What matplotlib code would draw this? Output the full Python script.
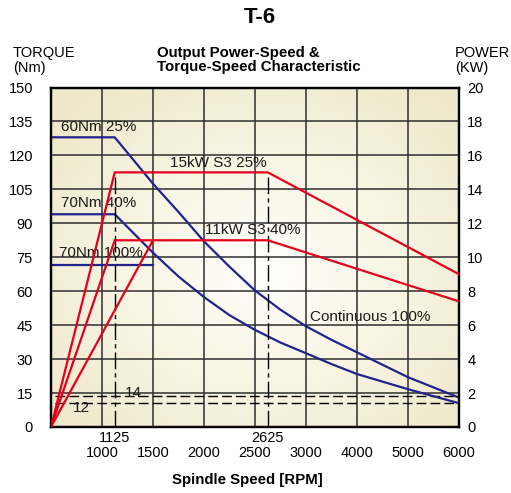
import numpy as np
import matplotlib
matplotlib.use("Agg")
import matplotlib.pyplot as plt
from matplotlib.colors import LinearSegmentedColormap

plt.rcParams['font.family'] = ['Liberation Sans', 'DejaVu Sans']

# x axis is piecewise: 0-1000 one column, then 500/column to 3000, then 1000/column
speed_knots = [0, 1000, 1500, 2000, 2500, 3000, 4000, 5000, 6000]
speed_ticks = [1000, 1500, 2000, 2500, 3000, 4000, 5000, 6000]
corner_speeds = [1125, 2625]

torque_ticks = list(range(0, 151, 15))
power_ticks = list(range(0, 21, 2))

# torque curves (Nm, left axis)
t25_speed = [0, 1125, 1500, 1750, 2000, 2250, 2500, 2750, 3000, 3500, 4000, 5000, 6000]
t25_torque = [128, 128, 107.5, 95, 82, 70.8, 60.3, 51.8, 44.5, 38.5, 33, 22, 13]
t40_speed = [0, 1125, 1500, 1750, 2000, 2250, 2500, 2750, 3000, 3500, 4000, 5000, 6000]
t40_torque = [94, 94, 77, 66.5, 57.4, 49.4, 42.9, 37.3, 32.6, 27.8, 23.4, 16.7, 10.5]
t100_speed = [0, 1500]
t100_torque = [71.6, 71.6]

# power curves (kW, right axis)
p25_speed = [0, 1125, 2625, 6000]
p25_power = [0, 15, 15, 9.0]
p40_speed = [0, 1125, 2625, 6000]
p40_power = [0, 11, 11, 7.4]
p100_speed = [0, 1500]
p100_power = [0, 11]

ref_levels = [13.5, 10.5]

blue = '#22228c'
red = '#e4001c'
pos = np.arange(len(speed_knots))


def fwd(s):
    return np.interp(s, speed_knots, pos)


def inv(p):
    return np.interp(p, pos, speed_knots)


fig = plt.figure(figsize=(5.11, 4.93), dpi=100)
ax = fig.add_axes([0.0998, 0.1339, 0.7984, 0.6886])
ax.set_xscale('function', functions=(fwd, inv))
ax.set_xlim(0, 6000)
ax.set_ylim(0, 150)

# radial gradient background
gx, gy = np.meshgrid(np.linspace(0, 1, 300), np.linspace(0, 1, 300))
r = np.sqrt(((gx - 0.52) / 0.66) ** 2 + ((gy - 0.46) / 0.66) ** 2)
cmap = LinearSegmentedColormap.from_list('bg', ['#fffffb', '#f8f5e4', '#efe8cb'])
ax.imshow(np.clip(r, 0, 1), cmap=cmap, vmin=0, vmax=1, extent=(0, 1, 0, 1),
          transform=ax.transAxes, aspect='auto', origin='lower', zorder=0)

ax.set_xticks(speed_ticks)
ax.set_xticklabels([str(s) for s in speed_ticks])
ax.set_xticks(corner_speeds, minor=True)
ax.set_xticklabels([str(s) for s in corner_speeds], minor=True)
ax.set_yticks(torque_ticks)
ax.grid(which='major', color='#2e2e2e', linewidth=1.1)
ax.tick_params(axis='x', which='major', length=0, pad=14, labelsize=10.5)
ax.tick_params(axis='x', which='minor', length=0, pad=3, labelsize=10.5)
ax.tick_params(axis='y', length=0, pad=13, labelsize=10.5)

ax.plot(t25_speed, t25_torque, color=blue, lw=1.6, zorder=3)
ax.plot(t40_speed, t40_torque, color=blue, lw=1.6, zorder=3)
ax.plot(t100_speed, t100_torque, color=blue, lw=1.6, zorder=3)

for lv in ref_levels:
    ax.axhline(lv, xmin=0.01, color='black', lw=1.0, linestyle=(0, (7, 3)), zorder=2.5)

ax2 = ax.twinx()
ax2.set_ylim(0, 20)
ax2.set_yticks(power_ticks)
ax2.tick_params(axis='y', length=0, pad=6, labelsize=10.5)
ax2.vlines(corner_speeds, 0, p25_power[1], color='black', lw=1.0,
           linestyle=(0, (12, 3, 3, 3)), zorder=2)
ax2.plot(p25_speed, p25_power, color=red, lw=1.6, zorder=3)
ax2.plot(p40_speed, p40_power, color=red, lw=1.6, zorder=3)
ax2.plot(p100_speed, p100_power, color=red, lw=1.6, zorder=3)

for a in (ax, ax2):
    for sp in a.spines.values():
        sp.set_linewidth(1.6)
        sp.set_color('black')

labels = [
    ("60Nm 25%", 0.024, 0.883),
    ("70Nm 40%", 0.024, 0.661),
    ("70Nm 100%", 0.020, 0.5125),
    ("15kW S3 25%", 0.292, 0.778),
    ("11kW S3 40%", 0.377, 0.580),
    ("Continuous 100%", 0.635, 0.325),
    ("14", 0.181, 0.100),
    ("12", 0.054, 0.056),
]
for txt, x, y in labels:
    ax.text(x, y, txt, transform=ax.transAxes, fontsize=11, ha='left',
            va='center', color='#1a1a1a', zorder=5)

fig.text(0.508, 0.9655, "T-6", fontsize=16, fontweight='bold', ha='center', va='center')
fig.text(0.307, 0.8834, "Output Power-Speed &", fontsize=10.8, fontweight='bold',
         ha='left', va='baseline')
fig.text(0.307, 0.856, "Torque-Speed Characteristic", fontsize=10.8, fontweight='bold',
         ha='left', va='baseline')
fig.text(0.0254, 0.8844, "TORQUE", fontsize=10.5, ha='left', va='baseline')
fig.text(0.0254, 0.854, "(Nm)", fontsize=10.5, ha='left', va='baseline')
fig.text(0.890, 0.8844, "POWER", fontsize=10.5, ha='left', va='baseline')
fig.text(0.890, 0.854, "(KW)", fontsize=10.5, ha='left', va='baseline')
fig.text(0.4834, 0.026, "Spindle Speed [RPM]", fontsize=10.8, fontweight='bold',
         ha='center', va='center')

fig.savefig("out.png", dpi=100)
